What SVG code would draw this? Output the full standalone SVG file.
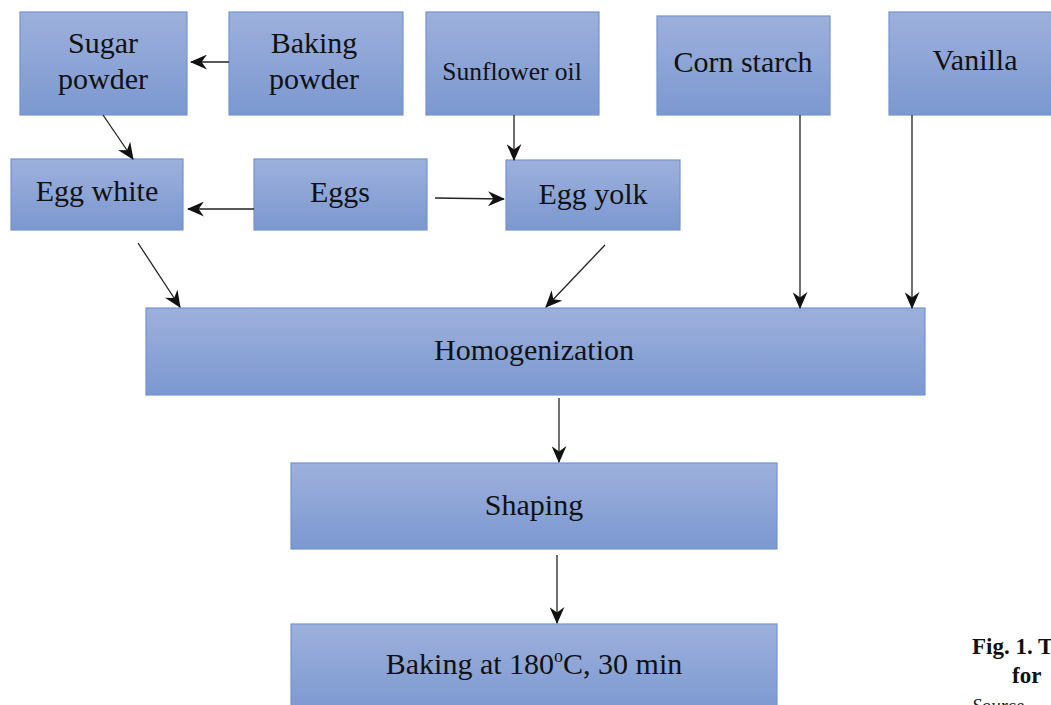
<svg xmlns="http://www.w3.org/2000/svg" width="1051" height="705" viewBox="0 0 1051 705">
<style>
.box{fill:url(#g);stroke:#7393d2;stroke-width:1.2}
.t{font-family:"Liberation Serif","Times New Roman",serif;font-size:30px;fill:#111;text-anchor:middle}
.s{font-size:25.5px}
.c{stroke:#222;stroke-width:1.3;fill:none;marker-end:url(#a)}
.fig{font-family:"Liberation Serif","Times New Roman",serif;font-weight:bold;font-size:23px;fill:#111}
</style>
<defs>
<linearGradient id="g" x1="0" y1="0" x2="0" y2="1">
<stop offset="0" stop-color="#9db0dc"/>
<stop offset="1" stop-color="#7b98d0"/>
</linearGradient>
<marker id="a" viewBox="0 0 16 14" refX="15" refY="7" markerWidth="17" markerHeight="15" markerUnits="userSpaceOnUse" orient="auto">
<path d="M0,0 L16,7 L0,14 L5,7 Z" fill="#111"/>
</marker>
</defs>
<rect width="1051" height="705" fill="#fff"/>
<g id="sugar"><rect class="box" x="20" y="12" width="167" height="103"/><text class="t" x="103" y="53">Sugar</text><text class="t" x="103" y="89">powder</text></g>
<g id="bakingpowder"><rect class="box" x="229" y="12" width="174" height="103"/><text class="t" x="314" y="53">Baking</text><text class="t" x="314" y="89">powder</text></g>
<g id="sunflower"><rect class="box" x="426" y="12" width="173" height="103"/><text class="t s" x="512" y="80">Sunflower oil</text></g>
<g id="corn"><rect class="box" x="657" y="16" width="173" height="99"/><text class="t" x="743" y="72">Corn starch</text></g>
<g id="vanilla"><rect class="box" x="889" y="12" width="174" height="103"/><text class="t" x="975" y="70">Vanilla</text></g>
<g id="eggwhite"><rect class="box" x="11" y="159" width="172" height="71"/><text class="t" x="97" y="201">Egg white</text></g>
<g id="eggs"><rect class="box" x="254" y="159" width="173" height="71"/><text class="t" x="340" y="202">Eggs</text></g>
<g id="eggyolk"><rect class="box" x="506" y="160" width="174" height="70"/><text class="t" x="593" y="204">Egg yolk</text></g>
<g id="homog"><rect class="box" x="146" y="308" width="779" height="87"/><text class="t" x="534" y="360">Homogenization</text></g>
<g id="shaping"><rect class="box" x="291" y="463" width="486" height="86"/><text class="t" x="534" y="515">Shaping</text></g>
<g id="baking"><rect class="box" x="291" y="624" width="486" height="90"/><text class="t" x="534" y="674">Baking at 180<tspan font-size="18" dy="-12">o</tspan><tspan dy="12">C, 30 min</tspan></text></g>
<g id="connectors">
<line class="c" x1="229" y1="62" x2="191" y2="62"/>
<line class="c" x1="103" y1="115" x2="133" y2="159"/>
<line class="c" x1="254" y1="209" x2="188" y2="209"/>
<line class="c" x1="435" y1="198" x2="504" y2="199"/>
<line class="c" x1="514" y1="115" x2="514" y2="160"/>
<line class="c" x1="138" y1="243" x2="180" y2="307"/>
<line class="c" x1="605" y1="245" x2="546" y2="307"/>
<line class="c" x1="800" y1="115" x2="800" y2="308"/>
<line class="c" x1="912" y1="115" x2="912" y2="308"/>
<line class="c" x1="559" y1="398" x2="559" y2="462"/>
<line class="c" x1="557" y1="555" x2="557" y2="623"/>
</g>
<g id="caption">
<text class="fig" x="972" y="654">Fig. 1. T</text>
<text class="fig" x="1012" y="683">for</text>
<text x="972" y="712" font-family="Liberation Serif,serif" font-style="italic" font-size="19" fill="#222">Source</text>
</g>
</svg>
